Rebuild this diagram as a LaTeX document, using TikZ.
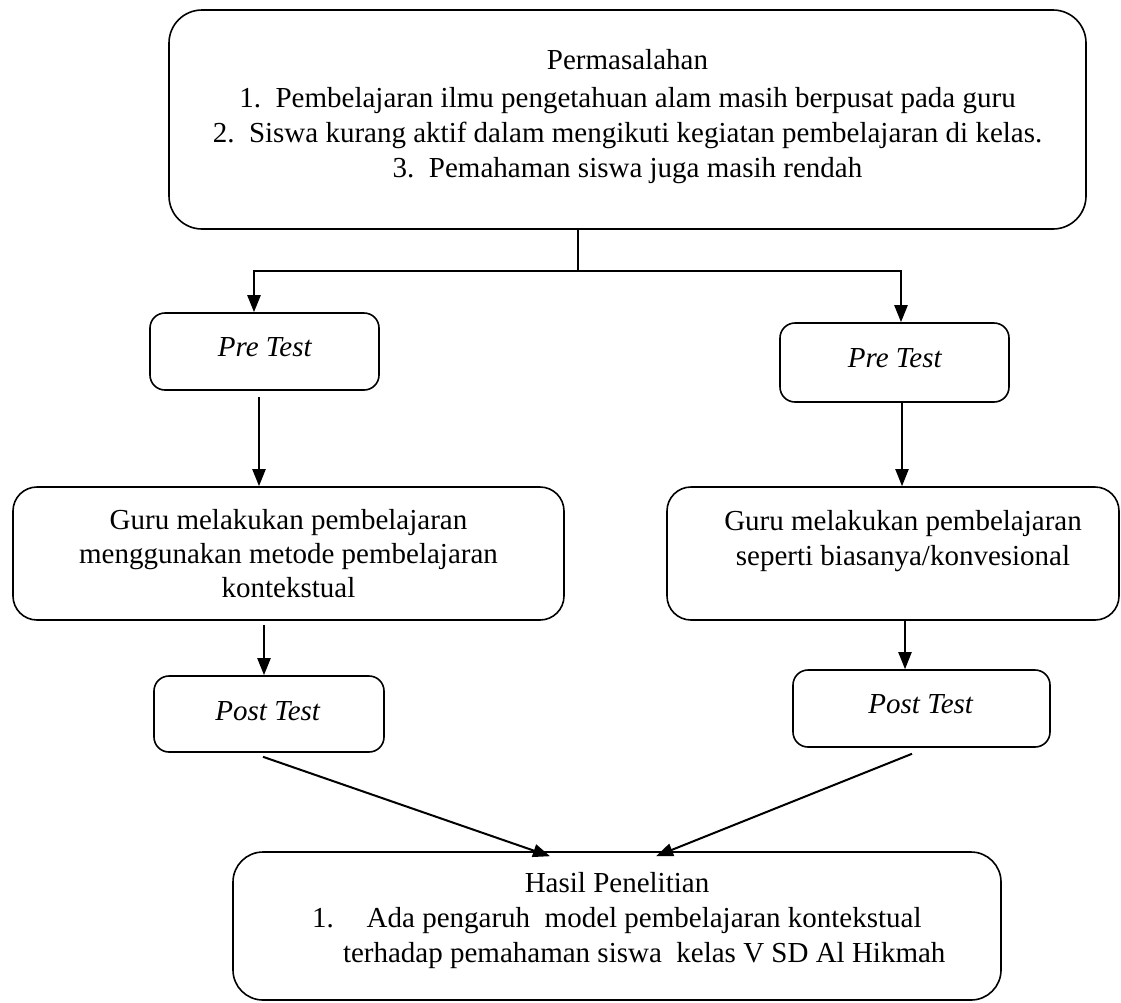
\documentclass[tikz,border=0pt]{standalone}
\usepackage{fontspec}
\setmainfont{Liberation Serif}
\usetikzlibrary{arrows.meta}

\tikzset{
  kotak/.style={draw, line width=1.6pt, rounded corners=#1, inner sep=0pt, align=center, font=\fontsize{29}{34}\selectfont},
  kotak/.default=15pt,
  teks/.style={align=center, inner sep=0pt, font=\fontsize{29}{35}\selectfont},
  garis/.style={line width=1.4pt},
  panah/.style={line width=2pt, -{Triangle[length=17pt,width=13pt]}}
}

\begin{document}
\begin{tikzpicture}[x=1pt, y=-1pt]
\useasboundingbox (0,0) rectangle (1121,1002);

% permasalahan
\node[kotak=33pt, minimum width=917pt, minimum height=219pt] (masalah) at (627.5,119.5) {};
\node[teks] (masalahteks) at (627.5,117) {Permasalahan\\[3pt]
  1.\ \ Pembelajaran ilmu pengetahuan alam masih berpusat pada guru\\
  2.\ \ Siswa kurang aktif dalam mengikuti kegiatan pembelajaran di kelas.\\
  3.\ \ Pemahaman siswa juga masih rendah};

% pre test
\node[kotak, minimum width=229pt, minimum height=77pt] (pre1) at (264.5,351.5) {};
\node[teks] (pre1teks) at (265,347) {\textit{Pre Test}};
\node[kotak, minimum width=229pt, minimum height=79pt] (pre2) at (894.5,362.5) {};
\node[teks] (pre2teks) at (895,358) {\textit{Pre Test}};

% pembelajaran
\node[kotak=24pt, minimum width=551pt, minimum height=133pt] (guru1) at (288.5,553.5) {Guru melakukan pembelajaran\\ menggunakan metode pembelajaran\\ kontekstual};
\node[kotak=24pt, minimum width=452pt, minimum height=133pt] (guru2) at (893,553.5) {};
\node[teks] (guru2teks) at (903,541) {Guru melakukan pembelajaran\\ seperti biasanya/konvesional};

% post test
\node[kotak, minimum width=230pt, minimum height=76pt] (post1) at (269,714) {};
\node[teks] (post1teks) at (268,711) {\textit{Post Test}};
\node[kotak, minimum width=257pt, minimum height=77pt] (post2) at (921.5,708.5) {};
\node[teks] (post2teks) at (921,704) {\textit{Post Test}};

% hasil
\node[kotak=30pt, minimum width=768pt, minimum height=148pt] (hasil) at (617,926) {};
\node[teks] (hasilteks) at (617,921) {Hasil Penelitian\\
  \makebox[610pt][l]{1.\hspace{33pt}Ada pengaruh\ \ model pembelajaran kontekstual}\\
  \makebox[610pt][l]{\hspace{31pt}terhadap pemahaman siswa\ \ kelas V SD Al Hikmah}};

% percabangan
\coordinate (cabang) at (578,271);
\draw[garis] (masalah.south -| cabang) -- (cabang);
\draw[panah, line width=2.4pt] (cabang) -| ([xshift=-10.5pt]pre1.north);
\draw[panah, line width=2.4pt] (cabang) -| ([xshift=6.5pt]pre2.north);

\draw[panah] ([xshift=-5.5pt,yshift=-6pt]pre1.south) -- ([xshift=-5.5pt]pre1.south |- guru1.north);
\draw[panah] ([xshift=7.5pt]pre2.south) -- ([xshift=7.5pt]pre2.south |- guru2.north);
\draw[panah] ([xshift=-24.5pt,yshift=-4pt]guru1.south) -- ([xshift=-24.5pt]guru1.south |- post1.north);
\draw[panah] ([xshift=12pt]guru2.south) -- ([xshift=12pt]guru2.south |- post2.north);
\draw[panah] ([xshift=-6pt,yshift=-4pt]post1.south) -- ([xshift=-67pt,yshift=-5pt]hasil.north);
\draw[panah] ([xshift=-9.5pt,yshift=-6pt]post2.south) -- ([xshift=39pt,yshift=-5pt]hasil.north);
\end{tikzpicture}
\end{document}
